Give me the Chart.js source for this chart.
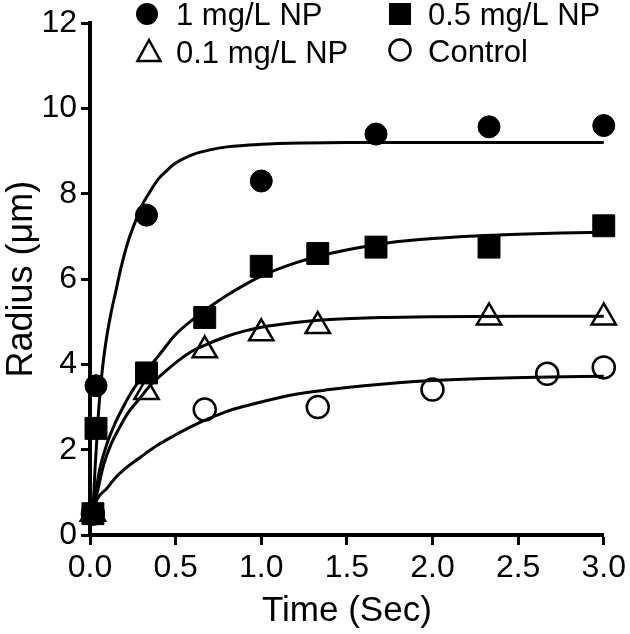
<!DOCTYPE html>
<html>
<head>
<meta charset="utf-8">
<script src="https://cdn.jsdelivr.net/npm/chart.js@4.4.0/dist/chart.umd.min.js"></script>
<style>
  html, body { margin: 0; padding: 0; background: #fff; }
  #wrap { width: 630px; height: 634px; position: relative; }
</style>
</head>
<body>
<div id="wrap"><canvas id="chart"></canvas></div>
<script>
// series names (legend order: row 1 then row 2)
const seriesNames = ['1 mg/L NP', '0.5 mg/L NP', '0.1 mg/L NP', 'Control'];

// measured points
const np1X = [0.017, 0.035, 0.33, 1.0, 1.67, 2.33, 3.0];
const np1Y = [0.5, 3.5, 7.5, 8.3, 9.4, 9.57, 9.6];

const np05X = [0.017, 0.035, 0.33, 0.67, 1.0, 1.33, 1.67, 2.33, 3.0];
const np05Y = [0.5, 2.5, 3.8, 5.1, 6.3, 6.6, 6.75, 6.75, 7.25];

const np01X = [0.017, 0.33, 0.67, 1.0, 1.33, 2.33, 3.0];
const np01Y = [0.5, 3.35, 4.33, 4.73, 4.9, 5.1, 5.1];

const ctrlX = [0.017, 0.67, 1.33, 2.0, 2.67, 3.0];
const ctrlY = [0.5, 2.94, 3.0, 3.41, 3.78, 3.93];

// fitted curves
const fit1X = [0.017, 0.03, 0.05, 0.07, 0.09, 0.12, 0.15, 0.18, 0.22, 0.26, 0.3, 0.35, 0.4, 0.45, 0.5, 0.6, 0.7, 0.8, 1.0, 1.25, 1.5, 2.0, 3.0];
const fit1Y = [0.5, 1.6, 2.9, 3.8, 4.45, 5.15, 5.7, 6.25, 6.85, 7.3, 7.7, 8.05, 8.35, 8.55, 8.72, 8.92, 9.03, 9.1, 9.16, 9.19, 9.2, 9.2, 9.2];

const fit05X = [0.017, 0.03, 0.06, 0.1, 0.15, 0.2, 0.25, 0.33, 0.4, 0.5, 0.6, 0.7, 0.8, 0.9, 1.0, 1.2, 1.4, 1.6, 1.8, 2.0, 2.25, 2.5, 2.75, 3.0];
const fit05Y = [0.5, 0.9, 1.6, 2.15, 2.65, 3.05, 3.4, 3.85, 4.2, 4.7, 5.05, 5.35, 5.62, 5.86, 6.07, 6.38, 6.6, 6.76, 6.88, 6.95, 7.01, 7.05, 7.08, 7.1];

const fit01X = [0.017, 0.04, 0.08, 0.12, 0.17, 0.22, 0.29, 0.35, 0.43, 0.52, 0.6, 0.7, 0.8, 0.9, 1.0, 1.2, 1.4, 1.7, 2.0, 2.5, 3.0];
const fit01Y = [0.5, 0.95, 1.65, 2.1, 2.5, 2.85, 3.2, 3.5, 3.8, 4.1, 4.32, 4.5, 4.66, 4.78, 4.87, 4.98, 5.05, 5.1, 5.12, 5.13, 5.13];

const fitCX = [0.017, 0.04, 0.1, 0.15, 0.2, 0.3, 0.4, 0.5, 0.6, 0.7, 0.8, 0.9, 1.0, 1.2, 1.4, 1.6, 1.8, 2.0, 2.3, 2.6, 3.0];
const fitCY = [0.5, 0.82, 1.1, 1.35, 1.54, 1.84, 2.12, 2.35, 2.56, 2.74, 2.9, 3.02, 3.12, 3.3, 3.41, 3.5, 3.57, 3.62, 3.67, 3.7, 3.72];

// axis tick labels
const xTickLabels = ['0.0', '0.5', '1.0', '1.5', '2.0', '2.5', '3.0'];
const yTickLabels = ['0', '2', '4', '6', '8', '10', '12'];

const FONT = '"Liberation Sans", Arial, Helvetica, sans-serif';

const pts = (xs, ys) => xs.map((x, i) => ({ x: x, y: ys[i] }));

const curve = (xs, ys) => ({
  type: 'line',
  data: pts(xs, ys),
  borderColor: '#000',
  borderWidth: 3,
  pointRadius: 0,
  fill: false,
  cubicInterpolationMode: 'monotone',
  clip: false,
  order: 1
});

const marks = (label, xs, ys, style, filled, radius) => ({
  type: 'scatter',
  label: label,
  data: pts(xs, ys),
  pointStyle: style,
  pointRadius: radius,
  pointHoverRadius: radius,
  pointBackgroundColor: filled ? '#000' : 'rgba(0,0,0,0)',
  pointBorderColor: '#000',
  pointBorderWidth: filled ? 1 : 2.5,
  showLine: false,
  clip: false,
  order: 2
});

// legend drawn in two fixed columns like the original
const cornerLegend = {
  id: 'cornerLegend',
  afterDraw(chart) {
    const ctx = chart.ctx;
    const items = [
      { style: 'circle', fill: true, mx: 147, my: 14, tx: 176, ty: 25, text: seriesNames[0] },
      { style: 'rect', fill: true, mx: 400, my: 14, tx: 428, ty: 25, text: seriesNames[1] },
      { style: 'triangle', fill: false, mx: 149, my: 52, tx: 176, ty: 63, text: seriesNames[2] },
      { style: 'circle', fill: false, mx: 400, my: 50, tx: 428, ty: 62, text: seriesNames[3] }
    ];
    ctx.save();
    ctx.fillStyle = '#000';
    ctx.strokeStyle = '#000';
    items.forEach(it => {
      ctx.beginPath();
      if (it.style === 'circle') {
        ctx.arc(it.mx, it.my, it.fill ? 11 : 10.5, 0, Math.PI * 2);
      } else if (it.style === 'rect') {
        ctx.rect(it.mx - 11, it.my - 11, 22, 22);
      } else {
        ctx.moveTo(it.mx, it.my - 12);
        ctx.lineTo(it.mx + 11.5, it.my + 9);
        ctx.lineTo(it.mx - 11.5, it.my + 9);
        ctx.closePath();
      }
      if (it.fill) {
        ctx.fill();
      } else {
        ctx.lineWidth = 2.5;
        ctx.stroke();
      }
      ctx.font = '31px ' + FONT;
      ctx.textBaseline = 'alphabetic';
      ctx.textAlign = 'left';
      ctx.fillText(it.text, it.tx, it.ty);
    });
    ctx.restore();
  }
};

new Chart(document.getElementById('chart'), {
  data: {
    datasets: [
      curve(fit1X, fit1Y),
      curve(fit05X, fit05Y),
      curve(fit01X, fit01Y),
      curve(fitCX, fitCY),
      marks(seriesNames[0], np1X, np1Y, 'circle', true, 11),
      marks(seriesNames[1], np05X, np05Y, 'rect', true, 15.5),
      marks(seriesNames[2], np01X, np01Y, 'triangle', false, 14),
      marks(seriesNames[3], ctrlX, ctrlY, 'circle', false, 11)
    ]
  },
  options: {
    responsive: true,
    maintainAspectRatio: false,
    animation: false,
    layout: { padding: { top: 22, right: 24, bottom: 0, left: 0 } },
    plugins: {
      legend: { display: false },
      tooltip: { enabled: false }
    },
    scales: {
      x: {
        type: 'linear',
        min: 0,
        max: 3,
        afterFit: s => { s.height = 99; },
        ticks: {
          stepSize: 0.5,
          color: '#000',
          padding: 4,
          font: { family: FONT, size: 32 },
          callback: (v) => xTickLabels[Math.round(v / 0.5)]
        },
        grid: { drawOnChartArea: false, drawTicks: true, tickLength: 10, tickWidth: 3, tickColor: '#000' },
        border: { display: true, color: '#000', width: 4 },
        title: { display: true, text: 'Time (Sec)', color: '#000', font: { family: FONT, size: 35 }, padding: { top: 0, bottom: 2 } }
      },
      y: {
        type: 'linear',
        min: 0,
        max: 12,
        afterFit: s => { s.width = 90; },
        ticks: {
          stepSize: 2,
          color: '#000',
          padding: 4,
          font: { family: FONT, size: 32 },
          callback: (v) => yTickLabels[Math.round(v / 2)]
        },
        grid: { drawOnChartArea: false, drawTicks: true, tickLength: 9, tickWidth: 3, tickColor: '#000' },
        border: { display: true, color: '#000', width: 4 },
        title: { display: true, text: 'Radius (\u03bcm)', color: '#000', font: { family: FONT, size: 36 }, padding: { top: 0, bottom: 0 } }
      }
    }
  },
  plugins: [cornerLegend]
});
</script>
</body>
</html>
